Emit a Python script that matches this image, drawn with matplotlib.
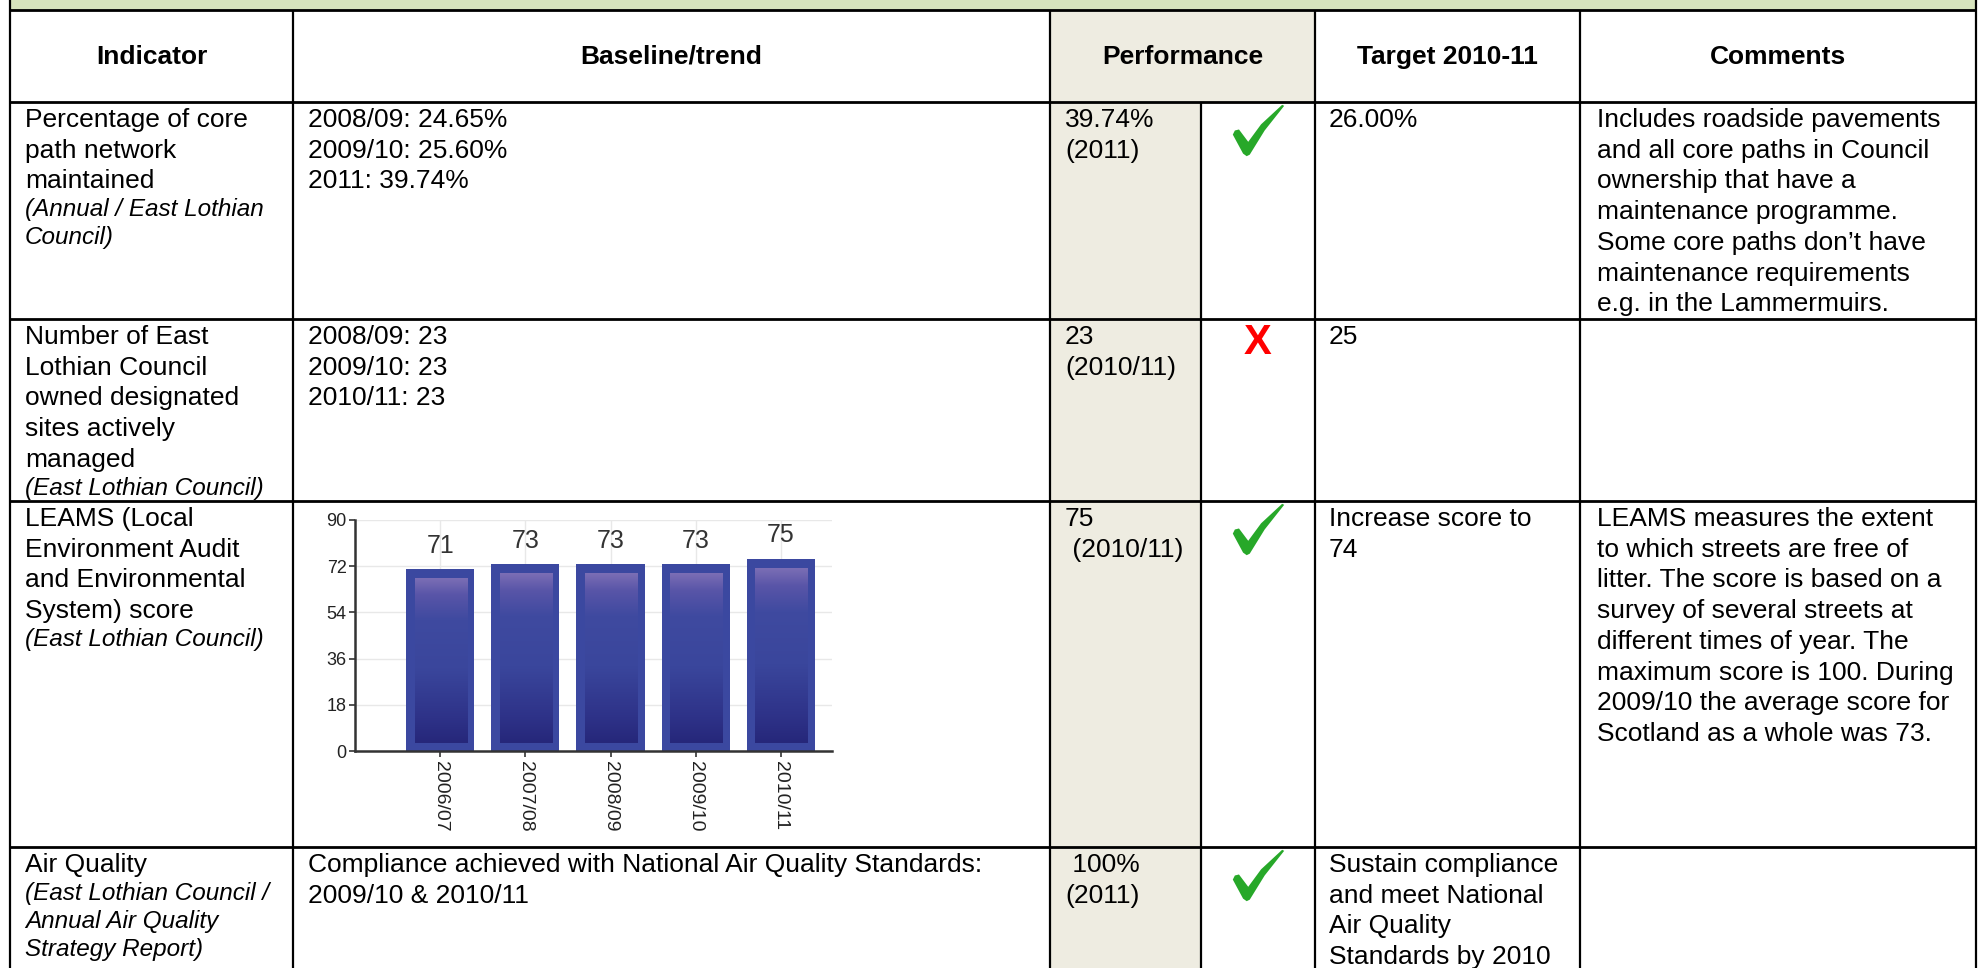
import numpy as np
import matplotlib.pyplot as plt
from matplotlib.patches import Rectangle
from matplotlib.path import Path
from matplotlib.colors import LinearSegmentedColormap

plt.rcParams['font.family'] = ['Liberation Sans', 'DejaVu Sans']

# LEAMS score bar chart (row 3)
leams_years = ['2006/07', '2007/08', '2008/09', '2009/10', '2010/11']
leams_scores = [71, 73, 73, 73, 75]
leams_ticks = [0, 18, 36, 54, 72, 90]

headers = ['Indicator', 'Baseline/trend', 'Performance', 'Target 2010-11', 'Comments']

# cell text: (line, italic)
indicator_cells = [
    [('Percentage of core', False), ('path network', False), ('maintained', False),
     ('(Annual / East Lothian', True), ('Council)', True)],
    [('Number of East', False), ('Lothian Council', False), ('owned designated', False),
     ('sites actively', False), ('managed', False), ('(East Lothian Council)', True)],
    [('LEAMS (Local', False), ('Environment Audit', False), ('and Environmental', False),
     ('System) score', False), ('(East Lothian Council)', True)],
    [('Air Quality', False), ('(East Lothian Council /', True), ('Annual Air Quality', True),
     ('Strategy Report)', True)],
]
baseline_cells = [
    [('2008/09: 24.65%', False), ('2009/10: 25.60%', False), ('2011: 39.74%', False)],
    [('2008/09: 23', False), ('2009/10: 23', False), ('2010/11: 23', False)],
    [],
    [('Compliance achieved with National Air Quality Standards:', False),
     ('2009/10 & 2010/11', False)],
]
performance_cells = [
    [('39.74%', False), ('(2011)', False)],
    [('23', False), ('(2010/11)', False)],
    [('75', False), (' (2010/11)', False)],
    [(' 100%', False), ('(2011)', False)],
]
status = ['ok', 'fail', 'ok', 'ok']
target_cells = [
    [('26.00%', False)],
    [('25', False)],
    [('Increase score to', False), ('74', False)],
    [('Sustain compliance', False), ('and meet National', False), ('Air Quality', False),
     ('Standards by 2010', False)],
]
comment_cells = [
    [('Includes roadside pavements', False), ('and all core paths in Council', False),
     ('ownership that have a', False), ('maintenance programme.', False),
     ('Some core paths don\u2019t have', False), ('maintenance requirements', False),
     ('e.g. in the Lammermuirs.', False)],
    [],
    [('LEAMS measures the extent', False), ('to which streets are free of', False),
     ('litter. The score is based on a', False), ('survey of several streets at', False),
     ('different times of year. The', False), ('maximum score is 100. During', False),
     ('2009/10 the average score for', False), ('Scotland as a whole was 73.', False)],
    [],
]

W, H = 1978, 968
col_x = [10, 293, 1050, 1201, 1315, 1580, 1976]
row_y = [10, 102, 319, 501, 847, 968]
text_x = [25, 308, 1065, 1329, 1597]

BEIGE = '#EEECE1'
GREEN_BAND = '#D7E4BD'

# tick icon outline, centred on 0
check_pts = np.array([(0.00, 0.42), (0.20, 0.05), (0.27, 0.00), (0.33, 0.03),
                      (0.62, 0.50), (1.00, 0.98), (0.96, 1.00), (0.55, 0.62),
                      (0.30, 0.28), (0.12, 0.52), (0.04, 0.50), (0.00, 0.42)]) - 0.5
check_marker = Path(check_pts, [Path.MOVETO] + [Path.LINETO] * (len(check_pts) - 2) + [Path.CLOSEPOLY])


def draw_cell(ax, x, top, lines):
    y = top + 25
    for i, (txt, it) in enumerate(lines):
        if i > 0:
            y += 28 if it else 30.7
        ax.text(x, y, txt, fontsize=17.5 if it else 19,
                style='italic' if it else 'normal', va='baseline', ha='left', color='black')


fig = plt.figure(figsize=(W / 100, H / 100), dpi=100)
ax = fig.add_axes([0, 0, 1, 1])
ax.set_xlim(0, W)
ax.set_ylim(H, 0)
ax.axis('off')

# backgrounds
ax.add_patch(Rectangle((col_x[0], 0), col_x[-1] - col_x[0], row_y[0], color=GREEN_BAND, lw=0))
ax.add_patch(Rectangle((col_x[2], row_y[0]), col_x[4] - col_x[2], row_y[1] - row_y[0], color=BEIGE, lw=0))
ax.add_patch(Rectangle((col_x[2], row_y[1]), col_x[3] - col_x[2], H - row_y[1], color=BEIGE, lw=0))

# grid lines
for y in row_y[:-1]:
    ax.plot([col_x[0], col_x[-1]], [y, y], color='black', lw=2.0, solid_capstyle='butt')
for i, x in enumerate(col_x):
    if i in (0, len(col_x) - 1):
        y0 = 0
    elif i == 3:
        y0 = row_y[1]
    else:
        y0 = row_y[0]
    ax.plot([x, x], [y0, H], color='black', lw=1.6, solid_capstyle='butt')

# header
head_cols = [(col_x[0], col_x[1]), (col_x[1], col_x[2]), (col_x[2], col_x[4]),
             (col_x[4], col_x[5]), (col_x[5], col_x[6])]
for label, (a, b) in zip(headers, head_cols):
    ax.text((a + b) / 2, 64, label, fontsize=19, fontweight='bold', ha='center', va='baseline')

# body rows
for r in range(4):
    top = row_y[r + 1]
    draw_cell(ax, text_x[0], top, indicator_cells[r])
    draw_cell(ax, text_x[1], top, baseline_cells[r])
    draw_cell(ax, text_x[2], top, performance_cells[r])
    draw_cell(ax, text_x[3], top, target_cells[r])
    draw_cell(ax, text_x[4], top, comment_cells[r])
    cx = (col_x[3] + col_x[4]) / 2
    if status[r] == 'ok':
        ax.plot(cx, top + 28, marker=check_marker, ms=37, color='#27A829',
                markeredgewidth=0, linestyle='none')
    else:
        ax.text(cx, top + 24, 'X', fontsize=30, color='#FF0000', fontweight='bold',
                ha='center', va='center')

# LEAMS chart
cax = fig.add_axes([355 / W, 1 - 751 / H, (832 - 355) / W, (751 - 520) / H])
xpos = np.arange(len(leams_scores))
bars = cax.bar(xpos, leams_scores, width=0.8, color='#3B48A0', zorder=2)

grad_cmap = LinearSegmentedColormap.from_list(
    'leams', [(0.0, '#26277A'), (0.15, '#2E3288'), (0.45, '#3A469C'),
              (0.75, '#3F4AA0'), (0.9, '#5955A8'), (1.0, '#7B6EB5')])
grad = np.linspace(0, 1, 256).reshape(-1, 1)
for b in bars:
    x0 = b.get_x() + 0.1
    x1 = b.get_x() + b.get_width() - 0.08
    y0 = 3.1
    y1 = b.get_height() - 3.9
    cax.imshow(grad, cmap=grad_cmap, origin='lower', aspect='auto',
               extent=(x0, x1, y0, y1), zorder=3)

cax.bar_label(bars, padding=8, fontsize=18, color='#333333')
cax.set_xlim(-1, 4.6)
cax.set_ylim(0, 90)
cax.set_yticks(leams_ticks)
cax.set_xticks(xpos, leams_years, rotation=270)
cax.grid(True, color='#E8E8E8', lw=1)
cax.set_axisbelow(True)
for s in ('top', 'right'):
    cax.spines[s].set_visible(False)
for s in ('left', 'bottom'):
    cax.spines[s].set_color('#333333')
    cax.spines[s].set_linewidth(1.8)
cax.tick_params(axis='y', length=4, width=1.2, color='#333333', labelsize=13,
                labelcolor='#222222', pad=2)
cax.tick_params(axis='x', length=4, width=1.2, color='#333333', labelsize=14,
                labelcolor='#222222', pad=3)
cax.patch.set_alpha(0)

fig.savefig('out.png', dpi=100)
